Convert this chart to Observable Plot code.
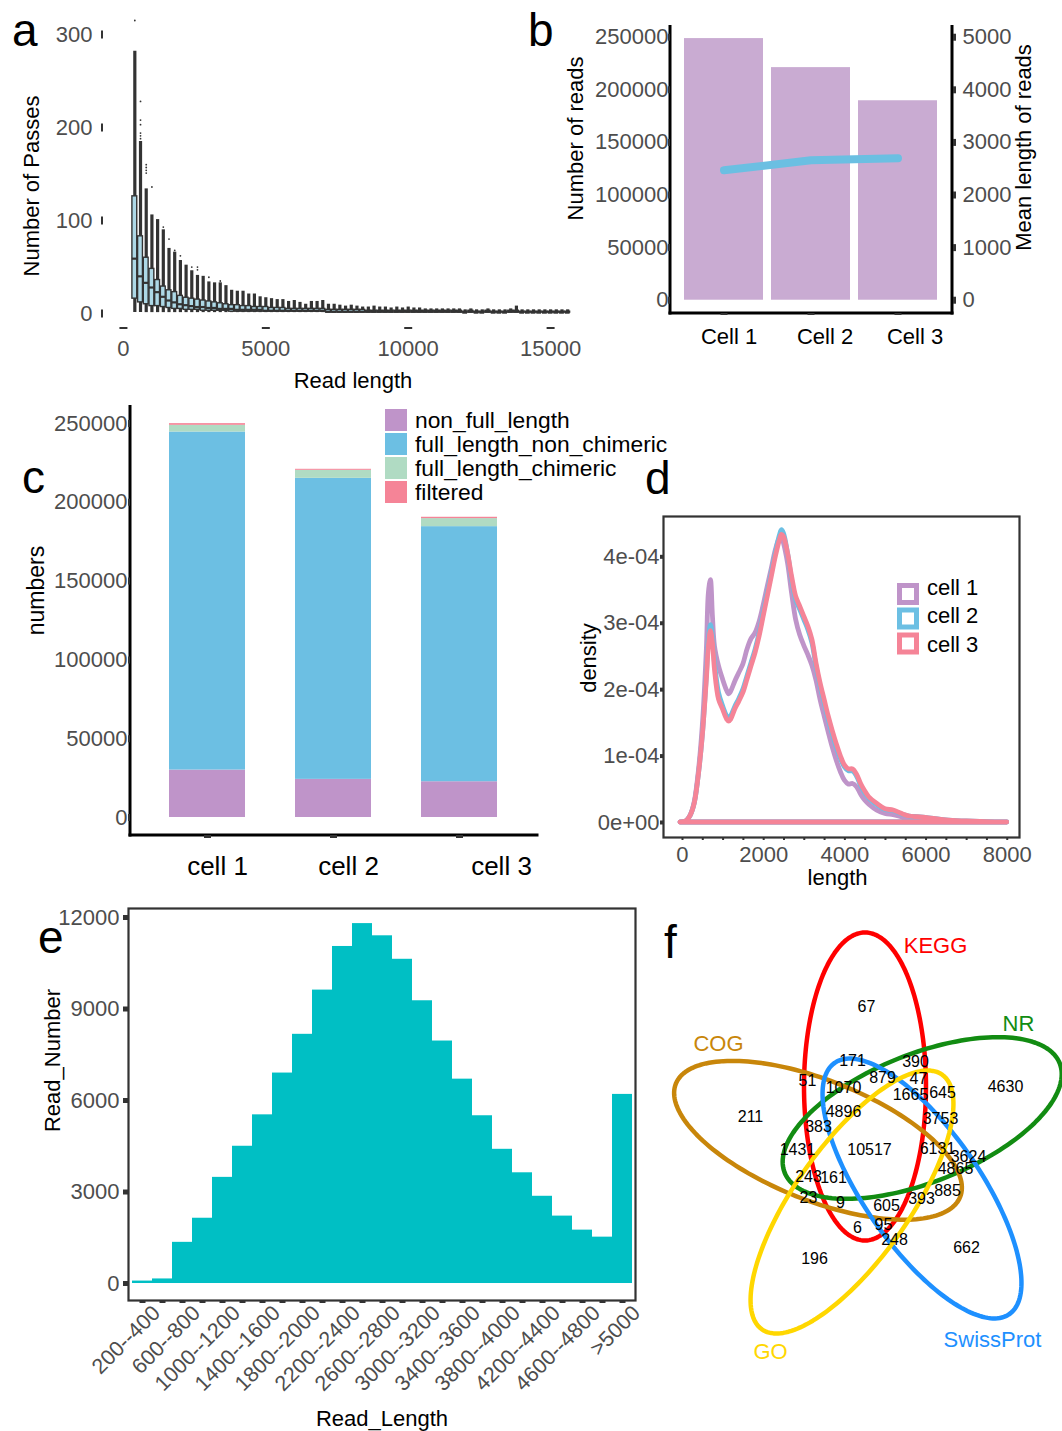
<!DOCTYPE html>
<html>
<head>
<meta charset="utf-8">
<script src="https://cdn.jsdelivr.net/npm/d3@7"></script>
<script src="https://cdn.jsdelivr.net/npm/@observablehq/plot@0.6"></script>
<style>
  body { margin: 0; background: #fff; }
  #fig { position: relative; width: 1062px; height: 1431px; background: #fff; overflow: hidden;
         font-family: 'Liberation Sans', Arial, Helvetica, sans-serif; }
</style>
</head>
<body>
<div id="fig"></div>
<script>
// ---------------- DATA ----------------
// (a) boxplots of number of passes per 200-bp read-length bin
const aLength = [400,600,800,1000,1200,1400,1600,1800,2000,2200,2400,2600,2800,3000,3200,3400,3600,3800,4000,4200,
  4400,4600,4800,5000,5200,5400,5600,5800,6000,6200,6400,6600,6800,7000,7200,7400,7600,7800,8000,8200,
  8400,8600,8800,9000,9200,9400,9600,9800,10000,10200,10400,10600,10800,11000,11200,11400,11600,11800,12000,12200,
  12400,12600,12800,13000,13200,13400,13600,13800,14000,14200,14400,14600,14800,15000,15200,15400,15600];
const aUpper = [282,185,134,106,101,90,70,66,57,52,46,41,40,34,33,33,30,25,24,24,
  21,21,18,17,16,15,15,13,14,12,10,13,13,14,10,10,9,8,9,8,
  7,7,8,7,7,6,7,6,7,6,6,5,5,5,5,5,5,5,4,5,
  4,4,5,4,4,4,5,8,4,4,4,4,4,4,4,4,4];
const aQ3 = [126,83,60,48,36,29,25,23,19,17,16,15,14,13,12,11,10,9,9,8,
  8,7,7,7,6,6,6,5,5,5,5,5,5,5,4,4,4,4,4,4,
  4,3,3,3,3,3,3,3,3,3,3,3,3,3,3,3,3,3,2,3,
  2,2,3,2,2,2,3,3,2,2,2,2,2,2,2,2,2];
const aMedian = [59,40,33,28,23,18,14,12,10,9,8,7,7,6,6,5,5,5,4,4,
  4,4,4,3,3,3,3,3,3,3,3,3,3,3,2,2,2,2,2,2,
  2,2,2,2,2,2,2,2,2,2,2,2,2,2,2,2,2,2,1,2,
  1,1,2,1,1,1,2,2,1,1,1,1,1,1,1,1,1];
const aQ1 = [16,12,10,8,8,7,6,5,5,4,4,4,3,3,3,3,3,2,2,2,
  2,2,2,2,2,2,2,2,2,2,2,2,2,2,1,1,1,1,1,1,
  1,1,1,1,1,1,1,1,1,1,1,1,1,1,1,1,1,1,1,1,
  1,1,1,1,1,1,1,1,1,1,1,1,1,1,1,1,1];
const aMinPasses = 1;
const aOutLength = [400,600,600,600,600,600,600,800,800,800,800,1000,1400,1400,1600,1800,1800,2000,2400,2600,2600,3000,3400];
const aOutValue  = [315,228,208,203,194,191,188,160,157,154,151,136,93,88,80,68,64,62,50,50,47,39,35];
const aXTicks = [0, 5000, 10000, 15000];
const aYTicks = [0, 100, 200, 300];

// (b) reads per cell and mean read length
const bCells = ["Cell 1", "Cell 2", "Cell 3"];
const bReads = [248700, 221100, 189600];
const bMeanLength = [2470, 2660, 2700];
const bLeftTicks = [0, 50000, 100000, 150000, 200000, 250000];
const bRightTicks = [0, 1000, 2000, 3000, 4000, 5000];

// (c) read classification per cell
const cCells = ["cell 1", "cell 2", "cell 3"];
const cTypes = ["non_full_length", "full_length_non_chimeric", "full_length_chimeric", "filtered"];
const cNonFullLength = [30100, 24200, 22700];
const cFullLengthNonChimeric = [214500, 191000, 161850];
const cFullLengthChimeric = [4250, 5100, 5100];
const cFiltered = [1060, 640, 850];
const cTicks = [0, 50000, 100000, 150000, 200000, 250000];
const cColors = ["#bf94c9", "#6cbfe3", "#b0dbc3", "#f58497"];

// (d) read-length density per cell (density in units of 1e-4)
const dLength = [-50,100,200,300,400,500,600,650,700,750,800,900,1000,1100,1150,1200,1300,1400,1500,1600,
  1700,1800,1900,2000,2100,2200,2300,2400,2450,2500,2600,2700,2800,2900,3000,3100,3200,3300,3400,3500,
  3600,3700,3800,3900,4000,4100,4200,4300,4400,4500,4600,4800,5000,5200,5400,5600,5800,6000,6500,7000,7500,8000];
const dCell1 = [0,0.02,0.1,0.3,0.75,1.45,2.6,3.45,3.65,3.1,2.65,2.35,2.15,1.98,1.93,1.97,2.12,2.25,2.38,2.6,
  2.76,2.85,3.02,3.27,3.55,3.82,4.1,4.28,4.3,4.2,3.9,3.45,3.05,2.82,2.66,2.52,2.36,2.14,1.85,1.6,
  1.36,1.13,0.93,0.76,0.63,0.57,0.58,0.53,0.42,0.33,0.27,0.18,0.13,0.11,0.08,0.05,0.04,0.03,0.015,0.006,0.002,0];
const dCell2 = [0,0.02,0.1,0.28,0.7,1.3,2.2,2.75,2.97,2.8,2.4,1.95,1.75,1.6,1.57,1.6,1.74,1.86,2.0,2.2,
  2.4,2.6,2.85,3.15,3.45,3.75,4.05,4.32,4.4,4.35,4.05,3.65,3.35,3.2,3.05,2.9,2.7,2.35,2.05,1.8,
  1.55,1.33,1.13,0.96,0.83,0.77,0.77,0.69,0.55,0.44,0.36,0.26,0.19,0.17,0.12,0.09,0.08,0.07,0.03,0.015,0.005,0];
const dCell3 = [0,0.02,0.1,0.28,0.7,1.3,2.15,2.65,2.88,2.7,2.3,1.85,1.7,1.55,1.52,1.55,1.7,1.82,1.95,2.15,
  2.35,2.55,2.8,3.1,3.4,3.7,4.0,4.25,4.33,4.3,4.05,3.7,3.4,3.25,3.1,2.95,2.75,2.4,2.1,1.85,
  1.6,1.38,1.18,1.0,0.86,0.8,0.8,0.72,0.58,0.47,0.38,0.28,0.2,0.18,0.13,0.09,0.08,0.07,0.03,0.015,0.005,0];
const dCells = ["cell 1", "cell 2", "cell 3"];
const dColors = ["#bf94c9", "#6cbfe3", "#f58497"];
const dYTicks = [0, 1, 2, 3, 4];
const dYTickLabels = ["0e+00", "1e-04", "2e-04", "3e-04", "4e-04"];
const dXTicks = [0,500,1000,1500,2000,2500,3000,3500,4000,4500,5000,5500,6000,6500,7000,7500,8000];
const dXLabelled = [0, 2000, 4000, 6000, 8000];

// (e) read length histogram
const eBins = ["200--400","400--600","600--800","800--1000","1000--1200","1200--1400","1400--1600","1600--1800",
  "1800--2000","2000--2200","2200--2400","2400--2600","2600--2800","2800--3000","3000--3200","3200--3400",
  "3400--3600","3600--3800","3800--4000","4000--4200","4200--4400","4400--4600","4600--4800","4800--5000",">5000"];
const eCounts = [80,150,1350,2140,3480,4500,5530,6900,8170,9620,11050,11800,11400,10630,9270,7950,
  6700,5500,4400,3630,2860,2210,1750,1520,6200];
const eYTicks = [0, 3000, 6000, 9000, 12000];

// (f) annotation Venn diagram
const vennSets = ["KEGG", "NR", "COG", "SwissProt", "GO"];
const vennColors = ["#ff0000", "#128c12", "#c8860a", "#1e90ff", "#ffd700"];
const vennCounts = [67,171,390,51,1070,879,47,1665,645,4630,211,4896,383,3753,1431,10517,6131,3624,4865,
  243,161,23,9,605,393,885,6,95,248,196,662];

// ---------------- LAYOUT (venn geometry, page pixel frame) ----------------
const vennEllipseLayout = [ // cx, cy, semi-major, semi-minor, angle (deg)
  [864.5, 1086, 154, 61, 90],
  [921.7, 1117.5, 148, 64, -21.7],
  [817.5, 1139.8, 153, 60, 21.7],
  [921.5, 1188, 153, 58, 55.2],
  [851.5, 1201.5, 156, 57, -54.7]
];
const vennSetLabelLayout = [[935, 945], [1018, 1023], [718, 1043], [992, 1339], [770, 1351]];
const vennCountLayout = [[866,1006],[852,1060],[915,1061],[807,1080],[843,1087],[882,1077],[918,1078],[910,1094],
  [942,1092],[1005,1086],[750,1116],[843,1111],[818,1126],[940,1118],[797,1149],[869,1149],[937,1148],[968,1156],
  [955,1168],[808,1176],[833,1177],[808,1197],[840,1202],[886,1205],[921,1198],[947,1190],[857,1227],[883,1224],
  [894,1239],[814,1258],[966,1247]];

// ---------------- HELPERS ----------------
const fig = document.getElementById("fig");
const FONT = "'Liberation Sans', Arial, Helvetica, sans-serif";
const baseStyle = {fontFamily: FONT, fontSize: "22px", background: "transparent", overflow: "visible", color: "#000"};
const GRAY = "#4d4d4d", DARK = "#333333";
const plain = d => String(d);
function place(node, left, top) {
  node.style.position = "absolute";
  node.style.left = left + "px";
  node.style.top = top + "px";
  fig.appendChild(node);
}
function frameLines(sides, stroke, strokeWidth) {
  return (index, scales, values, dims) => {
    const {width, height, marginLeft, marginRight, marginTop, marginBottom} = dims;
    const x0 = marginLeft, x1 = width - marginRight, y0 = marginTop, y1 = height - marginBottom;
    const h = strokeWidth / 2;
    const seg = {left: [x0, y0, x0, y1 + h], right: [x1, y0, x1, y1 + h], bottom: [x0 - h, y1, x1 + h, y1]};
    const g = d3.create("svg:g");
    for (const s of sides) {
      const p = seg[s];
      g.append("line").attr("x1", p[0]).attr("y1", p[1]).attr("x2", p[2]).attr("y2", p[3])
        .attr("stroke", stroke).attr("stroke-width", strokeWidth);
    }
    return g.node();
  };
}
const title = (t, o) => Plot.text([t], {text: d => d, fontSize: 22, fill: "#000",
  textAnchor: "middle", lineAnchor: "middle", ...o});

// ---------------- (a) ----------------
const aData = aLength.map((len, i) => ({len, hi: aUpper[i], q3: aQ3[i], med: aMedian[i], q1: aQ1[i]}));
const aOut = aOutLength.map((len, i) => ({len, v: aOutValue[i]}));
const aHalf = 85;
place(Plot.plot({
  width: 590, height: 400, marginLeft: 103, marginRight: 10, marginTop: 20, marginBottom: 73,
  style: baseStyle,
  x: {domain: [-700, 16050]}, y: {domain: [-15, 315]},
  marks: [
    Plot.ruleX(aData, {x: "len", y1: aMinPasses, y2: "hi", stroke: DARK, strokeWidth: 3.2}),
    Plot.rect(aData, {x1: d => d.len - aHalf, x2: d => d.len + aHalf, y1: "q1", y2: "q3",
      fill: "#add8e6", stroke: DARK, strokeWidth: 1.4}),
    Plot.ruleY(aData, {y: "med", x1: d => d.len - aHalf, x2: d => d.len + aHalf, stroke: DARK, strokeWidth: 2.2}),
    Plot.dot(aOut, {x: "len", y: "v", r: 0.9, fill: DARK, stroke: null}),
    Plot.axisY({ticks: aYTicks, tickFormat: plain, tickSize: 2, strokeWidth: 8, stroke: DARK, fill: GRAY, tickPadding: 9, fontSize: 22, label: null}),
    Plot.axisX({ticks: aXTicks, tickFormat: plain, tickSize: 2, strokeWidth: 8, stroke: DARK, fill: GRAY, tickPadding: 11, fontSize: 22, label: null}),
    title("Number of Passes", {frameAnchor: "left", rotate: -90, dx: -72, dy: 12}),
    title("Read length", {frameAnchor: "bottom", dx: 11, dy: 53})
  ]
}), 0, 0);

// ---------------- (b) ----------------
const bData = bCells.map((c, i) => ({cell: c, reads: bReads[i], mean: bMeanLength[i]}));
const bRatio = 250000 / 5000; // secondary axis: 5000 bp <-> 250000 reads
const bLabelShift = [5, 14, 17];
place(Plot.plot({
  width: 522, height: 360, marginLeft: 130, marginRight: 110, marginTop: 25, marginBottom: 47,
  style: baseStyle,
  x: {type: "band", domain: bCells, paddingInner: 0.0909, paddingOuter: 0.148},
  y: {domain: [-12630, 261140]},
  marks: [
    Plot.barY(bData, {x: "cell", y: "reads", fill: "#c9abd2"}),
    Plot.line(bData, {x: "cell", y: d => d.mean * bRatio, stroke: "#6bbfe2", strokeWidth: 8}),
    frameLines(["left", "bottom", "right"], "#000", 3),
    Plot.axisY({ticks: bLeftTicks, tickFormat: plain, tickSize: 2, strokeWidth: 7, stroke: DARK, fill: GRAY, tickPadding: 0, fontSize: 22, label: null}),
    Plot.axisY({anchor: "right", ticks: bRightTicks.map(v => v * bRatio), tickFormat: d => String(Math.round(d / bRatio)),
      tickSize: 3, strokeWidth: 7, stroke: DARK, fill: GRAY, tickPadding: 7, fontSize: 22, label: null}),
    Plot.axisX({tickSize: 2, strokeWidth: 7, stroke: DARK, tickFormat: () => "", label: null}),
    ...bCells.map((c, i) => Plot.axisX([c], {tickSize: 0, tickPadding: 15, dx: bLabelShift[i], fill: "#000", fontSize: 22, label: null})),
    title("Number of reads", {frameAnchor: "left", rotate: -90, dx: -95, dy: -31}),
    title("Mean length of reads", {frameAnchor: "right", rotate: -90, dx: 71, dy: -22})
  ]
}), 540, 0);

// ---------------- (c) ----------------
const cSeries = [cNonFullLength, cFullLengthNonChimeric, cFullLengthChimeric, cFiltered];
const cData = cCells.flatMap((cell, i) => cTypes.map((type, k) => ({cell, type, value: cSeries[k][i]})));
const cLabelShift = [10, 15, 42];
place(Plot.plot({
  width: 680, height: 480, marginLeft: 130, marginRight: 143, marginTop: 5, marginBottom: 45,
  style: baseStyle,
  x: {type: "band", domain: cCells, paddingInner: 0.394, paddingOuter: 0.2995},
  y: {domain: [-11420, 261420]},
  color: {domain: cTypes, range: cColors},
  marks: [
    Plot.barY(cData, {x: "cell", y: "value", fill: "type"}),
    frameLines(["left", "bottom"], "#000", 3),
    Plot.axisY({ticks: cTicks, tickFormat: plain, tickSize: 2, strokeWidth: 7, stroke: DARK, fill: GRAY, tickPadding: 1, fontSize: 22, label: null}),
    Plot.axisX({tickSize: 3, strokeWidth: 7, stroke: DARK, tickFormat: () => "", label: null}),
    ...cCells.map((c, i) => Plot.axisX([c], {tickSize: 0, tickPadding: 21, dx: cLabelShift[i], fill: "#000", fontSize: 26, label: null})),
    title("numbers", {frameAnchor: "left", rotate: -90, dx: -94, dy: -30, fontSize: 23})
  ]
}), 0, 400);

// ---------------- (d) ----------------
const dSeries = [dCell1, dCell2, dCell3];
place(Plot.plot({
  width: 502, height: 400, marginLeft: 103, marginRight: 43, marginTop: 16, marginBottom: 63,
  style: baseStyle,
  x: {domain: [-468, 8302]}, y: {domain: [-0.226, 4.607]},
  marks: [
    Plot.frame({stroke: DARK, strokeWidth: 2.2}),
    ...dSeries.map((s, k) => Plot.areaY(dLength.map((len, i) => ({len, density: s[i]})),
      {x: "len", y: "density", fill: "none", stroke: dColors[k], strokeWidth: 4.8, curve: "catmull-rom"})),
    Plot.axisY({ticks: dYTicks, tickFormat: d => dYTickLabels[Math.round(d)], tickSize: 3, strokeWidth: 4,
      stroke: DARK, fill: GRAY, tickPadding: 1, fontSize: 22, label: null}),
    Plot.axisX({ticks: dXTicks, tickFormat: d => dXLabelled.includes(d) ? String(d) : "", tickSize: 3, strokeWidth: 2,
      stroke: DARK, fill: GRAY, tickPadding: 6, fontSize: 22, label: null}),
    title("density", {frameAnchor: "left", rotate: -90, dx: -75, dy: -19}),
    title("length", {frameAnchor: "bottom", dx: -4, dy: 40})
  ]
}), 560, 500);

// ---------------- (e) ----------------
const eData = eBins.map((b, i) => ({bin: b, n: eCounts[i]}));
place(Plot.plot({
  width: 650, height: 531, marginLeft: 128, marginRight: 15, marginTop: 8, marginBottom: 131,
  style: baseStyle,
  x: {type: "band", domain: eBins, paddingInner: 0, paddingOuter: 0.015},
  y: {domain: [-557, 12295]},
  marks: [
    Plot.barY(eData, {x: "bin", y: "n", fill: "#00bfc4"}),
    Plot.frame({stroke: DARK, strokeWidth: 2.2}),
    Plot.axisY({ticks: eYTicks, tickFormat: plain, tickSize: 5, strokeWidth: 5, stroke: DARK, fill: GRAY, tickPadding: 4, fontSize: 22, label: null}),
    Plot.axisX({tickSize: 3, strokeWidth: 6, stroke: DARK, tickFormat: () => "", label: null}),
    Plot.axisX({tickSize: 0, tickPadding: 9, dx: 14, tickRotate: -45, fill: GRAY, fontSize: 21.5, label: null,
      tickFormat: d => eBins.indexOf(d) % 2 === 0 ? d : ""}),
    title("Read_Number", {frameAnchor: "left", rotate: -90, dx: -76, dy: -44}),
    title("Read_Length", {frameAnchor: "bottom", dx: 0, dy: 118})
  ]
}), 0, 900);

// ---------------- (f) ----------------
const ellipsePoints = vennSets.flatMap((set, i) => {
  const [cx, cy, a, b, deg] = vennEllipseLayout[i];
  const th = deg * Math.PI / 180;
  return d3.range(0, 361, 2).map(t => {
    const r = t * Math.PI / 180;
    return {set, x: cx + a * Math.cos(r) * Math.cos(th) - b * Math.sin(r) * Math.sin(th),
                 y: cy + a * Math.cos(r) * Math.sin(th) + b * Math.sin(r) * Math.cos(th)};
  });
});
const vennLabels = vennSets.map((set, i) => ({set, x: vennSetLabelLayout[i][0], y: vennSetLabelLayout[i][1]}));
const vennNumbers = vennCounts.map((n, i) => ({n, x: vennCountLayout[i][0], y: vennCountLayout[i][1]}));
place(Plot.plot({
  width: 402, height: 445, marginLeft: 0, marginRight: 0, marginTop: 0, marginBottom: 0,
  style: baseStyle,
  x: {domain: [660, 1062], range: [0, 402], axis: null},
  y: {domain: [920, 1365], range: [0, 445], axis: null},
  color: {domain: vennSets, range: vennColors},
  marks: [
    Plot.line(ellipsePoints, {x: "x", y: "y", z: "set", stroke: "set", strokeWidth: 4.5}),
    Plot.text(vennNumbers, {x: "x", y: "y", text: d => String(d.n), fontSize: 16, fill: "#000"}),
    Plot.text(vennLabels, {x: "x", y: "y", text: "set", fill: "set", fontSize: 22})
  ]
}), 660, 920);

// ---------------- overlay: panel letters and legends ----------------
const ov = d3.create("svg").attr("width", 1062).attr("height", 1431)
  .style("position", "absolute").style("left", "0px").style("top", "0px")
  .style("pointer-events", "none").style("font-family", FONT).style("overflow", "visible");
const letters = [["a", 12, 46], ["b", 528, 46], ["c", 22, 493], ["d", 645, 494], ["e", 38, 953], ["f", 664, 958]];
ov.selectAll("text.letter").data(letters).join("text").attr("class", "letter")
  .attr("x", d => d[1]).attr("y", d => d[2]).attr("font-size", 46).attr("fill", "#000").text(d => d[0]);

// legend c
const lc = ov.append("g");
cTypes.forEach((t, i) => {
  const y0 = 409 + i * 24;
  lc.append("rect").attr("x", 385).attr("y", y0).attr("width", 22).attr("height", 22).attr("fill", cColors[i]);
  lc.append("text").attr("x", 415).attr("y", y0 + 19).attr("font-size", 22.8).attr("fill", "#000").text(t);
});
// legend d
const ld = ov.append("g");
const ldRows = [594, 618.5, 643.5];
const ldText = [595, 623, 652];
dCells.forEach((t, i) => {
  ld.append("rect").attr("x", 899.5).attr("y", ldRows[i] - 8.5).attr("width", 17).attr("height", 17)
    .attr("fill", "#fff").attr("stroke", dColors[i]).attr("stroke-width", 5);
  ld.append("text").attr("x", 927).attr("y", ldText[i]).attr("font-size", 22).attr("fill", "#000").text(t);
});
fig.appendChild(ov.node());
</script>
</body>
</html>
